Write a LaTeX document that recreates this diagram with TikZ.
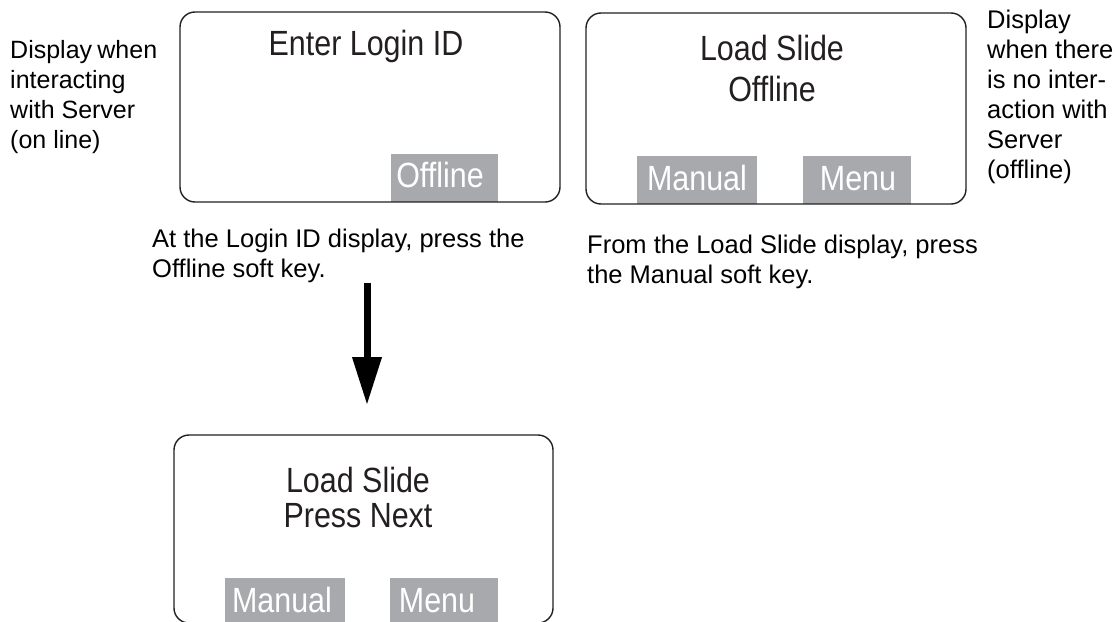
\documentclass[tikz,border=0pt]{standalone}
\usepackage{fontspec}
\setmainfont{Liberation Sans}
\newfontfamily\dispfont[FakeStretch=0.87]{Liberation Sans}
\usetikzlibrary{arrows.meta}
\definecolor{ink}{HTML}{231F20}
\definecolor{keygray}{HTML}{A7A9AC}
\tikzset{
  screen/.style={draw=ink, line width=1.4pt, rounded corners=15pt, rectangle, inner sep=0pt},
  softkey/.style={fill=keygray, draw=none, rectangle, inner sep=0pt},
  disptext/.style={text=ink, inner sep=0pt, anchor=base, font=\dispfont\fontsize{35}{40}\selectfont},
  keytext/.style={text=white, inner sep=0pt, anchor=base, font=\dispfont\fontsize{35}{40}\selectfont},
  note/.style={text=black, inner sep=0pt, anchor=base west, align=left, font=\fontsize{25.5}{30}\selectfont},
}
\begin{document}
\begin{tikzpicture}[x=1pt,y=-1pt]
\useasboundingbox (0,0) rectangle (1115,621);
\clip (0,0) rectangle (1115,621);
% soft keys (drawn first, borders go on top)
\node[softkey, minimum width=107pt, minimum height=48pt] (k1) at (444.5,178) {};
\node[softkey, minimum width=120pt, minimum height=48pt] (k2) at (697,180) {};
\node[softkey, minimum width=108pt, minimum height=48pt] (k3) at (857,180) {};
\node[softkey, minimum width=120pt, minimum height=48pt] (k4) at (285,602) {};
\node[softkey, minimum width=108pt, minimum height=48pt] (k5) at (444,602) {};
% screens
\node[screen, minimum width=380pt, minimum height=190pt] (s1) at (370,107) {};
\node[screen, minimum width=380pt, minimum height=191pt] (s2) at (776,108.5) {};
\node[screen, minimum width=379pt, minimum height=188pt] (s3) at (363.5,529) {};
% screen texts
\node[disptext] (t1) at (366,55) {Enter Login ID};
\node[disptext] (t2) at (772,60) {Load Slide};
\node[disptext] (t3) at (772,101) {Offline};
\node[disptext] (t4) at (358,492) {Load Slide};
\node[disptext] (t5) at (358,527) {Press Next};
% key labels
\node[keytext] (l1) at (440,187) {Offline};
\node[keytext] (l2) at (697,190) {Manual};
\node[keytext] (l3) at (858,190) {Menu};
\node[keytext] (l4) at (282,612) {Manual};
\node[keytext] (l5) at (437,612) {Menu};
% notes (base anchor = baseline of the last line)
\node[note, font=\fontsize{25}{30}\selectfont] (n1) at (10,148) {\hbox to 147pt{Display\hfill when}\\interacting\\with Server\\(on line)};
\node[note] (n2) at (987,178) {Display\\when there\\is no inter-\\action with\\Server\\(offline)};
\node[note] (c1) at (152,277) {At the Login ID display, press the\\Offline soft key.};
\node[note] (c2) at (587,283) {From the Load Slide display, press\\the Manual soft key.};
% arrow
\coordinate (a1) at (367,283);
\coordinate (a2) at (367,405);
\draw[black, line width=7pt, -{Triangle[length=48pt,width=28pt]}] (a1) -- (a2);
\end{tikzpicture}
\end{document}
